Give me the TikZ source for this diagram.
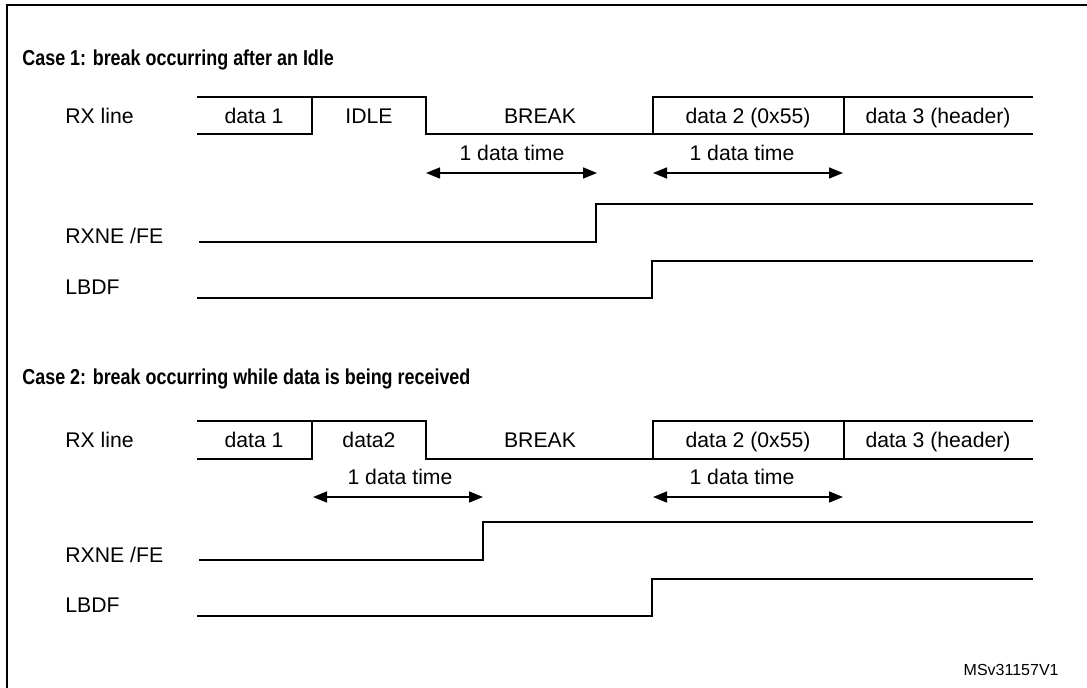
\documentclass[tikz,border=0pt]{standalone}
\usepackage{fontspec}
\setmainfont{Liberation Sans}
\newfontfamily\narrowfont[FakeStretch=0.83]{Liberation Sans}
\usetikzlibrary{arrows.meta}
\tikzset{
  wave/.style={line width=0.75pt},
  frame/.style={line width=1pt},
  sig/.style={anchor=base west,inner sep=0pt,font=\fontsize{10.6}{12}\selectfont},
  cell/.style={anchor=base,inner sep=0pt,font=\fontsize{10.6}{12}\selectfont},
  heading/.style={anchor=base west,inner sep=0pt,font=\fontsize{10.8}{12}\narrowfont\bfseries},
  span/.style={line width=0.75pt,{Triangle[length=7pt,width=5.5pt]}-{Triangle[length=7pt,width=5.5pt]}},
}

\begin{document}
\begin{tikzpicture}[x=0.5pt,y=-0.5pt]
\useasboundingbox (0,0) rectangle (1087,688);
\draw[frame] (7,688) -- (7,5) -- (1087,5);

% case 1
\node[heading] (title1) at (22,66) {Case 1: break occurring after an Idle};
\node[sig] (rx1) at (65,123.5) {RX line};
\node[sig] (rxne1) at (65,243.5) {RXNE /FE};
\node[sig] (lbdf1) at (65,294.5) {LBDF};

\draw[wave] (197,97) -- (426,97) -- (426,134) -- (653,134) -- (653,97) -- (1033,97);
\draw[wave] (197,134) -- (312,134) -- (312,97);
\draw[wave] (653,134) -- (1033,134);
\draw[wave] (844,97) -- (844,134);
\node[cell] (d11) at (254,123.5) {data 1};
\node[cell] (idle1) at (369,123.5) {IDLE};
\node[cell] (brk1) at (540,123.5) {BREAK};
\node[cell] (d21) at (748,123.5) {data 2 (0x55)};
\node[cell] (d31) at (938,123.5) {data 3 (header)};

\coordinate (a1s) at (426,173);
\coordinate (a1e) at (597,173);
\coordinate (b1s) at (653,173);
\coordinate (b1e) at (843,173);
\draw[span] (a1s) -- (a1e);
\draw[span] (b1s) -- (b1e);
\node[cell] (t11) at (512,160.5) {1 data time};
\node[cell] (t12) at (742,160.5) {1 data time};

\draw[wave] (199,242) -- (596,242) -- (596,204) -- (1033,204);
\draw[wave] (197,298) -- (652,298) -- (652,261) -- (1033,261);

% case 2
\node[heading] (title2) at (22,385) {Case 2: break occurring while data is being received};
\node[sig] (rx2) at (65,447.5) {RX line};
\node[sig] (rxne2) at (65,562.5) {RXNE /FE};
\node[sig] (lbdf2) at (65,612.5) {LBDF};

\draw[wave] (197,421) -- (426,421) -- (426,459) -- (653,459) -- (653,421) -- (1033,421);
\draw[wave] (197,459) -- (312,459) -- (312,421);
\draw[wave] (653,459) -- (1033,459);
\draw[wave] (844,421) -- (844,459);
\node[cell] (d12) at (254,447.5) {data 1};
\node[cell] (d22) at (369,447.5) {data2};
\node[cell] (brk2) at (540,447.5) {BREAK};
\node[cell] (d23) at (748,447.5) {data 2 (0x55)};
\node[cell] (d32) at (938,447.5) {data 3 (header)};

\coordinate (a2s) at (313,497);
\coordinate (a2e) at (483,497);
\coordinate (b2s) at (653,497);
\coordinate (b2e) at (843,497);
\draw[span] (a2s) -- (a2e);
\draw[span] (b2s) -- (b2e);
\node[cell] (t21) at (400,484.5) {1 data time};
\node[cell] (t22) at (742,484.5) {1 data time};

\draw[wave] (199,560) -- (483,560) -- (483,522) -- (1033,522);
\draw[wave] (197,616) -- (652,616) -- (652,579) -- (1033,579);

\node[anchor=base east,inner sep=0pt,font=\fontsize{8}{9}\selectfont] (code) at (1059,676) {MSv31157V1};
\end{tikzpicture}
\end{document}
